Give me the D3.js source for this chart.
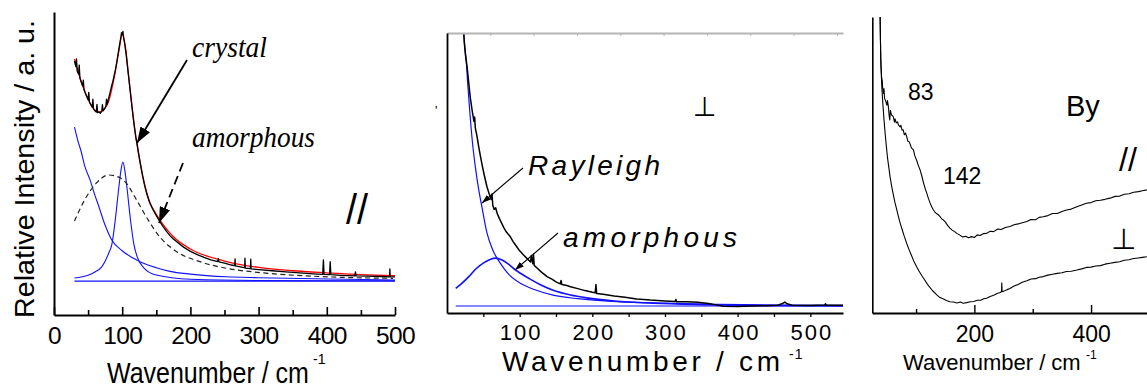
<!DOCTYPE html>
<html><head><meta charset="utf-8">
<script src="https://cdn.jsdelivr.net/npm/d3@7"></script>
<style>body{margin:0;background:#fff} svg{display:block}</style>
</head><body>
<svg id="c" width="1147" height="392"></svg>
<script>
// ---------------- Panel 1 (// polarisation, fitted) ----------------
const p1MajorTicks = [0,100,200,300,400,500];
const p1MinorTicks = [50,150,250,350,450];
const p1Measured = [[30,83.8],[32,82],[33,84.5],[34,80.5],[36,79.5],[37,82.5],[38,78.2],[40,76.8],[42,75.6],[43,77.5],[44,74.4],[46,73.2],[48,72.2],[50,71],[51,73.5],[52,70.2],[54,69.4],[56,68.6],[57,71.2],[58,68],[60,67.4],[62,67],[63,69.5],[64,66.8],[66,67],[68,66.6],[70,67.2],[71,69.4],[72,67.4],[74,68],[76,68.9],[77,71.2],[78,69.5],[80,71.5],[82,73.2],[84,75.2],[86,76.8],[88,78.8],[90,80.8],[92,83.4],[94,86.2],[96,89],[98,91.6],[99,93.2],[100,92.6],[101,93.6],[102,91.8],[104,89],[106,85.6],[108,81.5],[110,77.6],[112,73.5],[114,69.4],[116,65.4],[118,61.8],[120,58.6],[122,56.2],[124,53.4],[126,50.8],[128,48.2],[130,45.8],[133,42.6],[136,40],[140,37.2],[145,34.8],[150,32.8],[155,30.9],[160,29.2],[165,27.6],[170,26.2],[175,25.1],[180,24.2],[190,22.4],[200,21],[210,19.9],[220,19],[230,18.2],[240,17.6],[241,18.6],[242,17.5],[250,17.1],[260,16.5],[265,16.3],[265.5,18.5],[266,16.2],[275,15.8],[279.5,15.6],[280,18.8],[280.5,15.5],[288,15.3],[288.5,18.4],[289,15.2],[300,15],[320,14.6],[340,14.2],[360,13.9],[380,13.6],[394,13.4],[395,18.2],[396,13.4],[404,13.3],[405,17.6],[406,13.3],[420,13.1],[441,12.9],[442,14.2],[443,12.9],[460,12.8],[480,12.7],[492,12.6],[492.5,15.2],[493,12.6],[500,12.6]];
const p1Fit = [[30,84.5],[40,77],[50,71.2],[60,67.6],[65,67],[70,67.3],[80,70.5],[90,80.5],[95,87],[100,92.5],[105,88],[110,77.5],[120,58.8],[130,46],[140,37.5],[150,33.2],[160,29.8],[175,25.8],[200,21.8],[250,17.8],[300,15.7],[350,14.6],[400,13.9],[450,13.3],[500,13]];
const p1Rayleigh = [[30,62],[35,57.5],[40,53.8],[45,49.2],[53,44.5],[60,39.5],[65,36.3],[75,29.6],[84.5,24.8],[100,21.2],[126,17.6],[150,15.6],[170,14.4],[200,13.5],[253,12.6],[300,12.3],[400,11.9],[500,11.55]];
const p1Crystal = [[30,12.2],[50,13.1],[60,14.2],[70,15.9],[80,20.3],[85,23.5],[90,31.7],[95,42],[98,47.5],[101,50.5],[104,47.5],[107,42],[112,31.7],[117,23.5],[122,19.2],[132,15.5],[150,13.2],[200,11.8],[300,11.4],[500,11.3]];
const p1Amorphous = [[30,31],[45,38],[62,43.5],[80,46.2],[95,45.5],[106,43.5],[121,38],[138,31.4],[155,25.8],[180,20.9],[214,17.6],[253,15.4],[302,14],[400,12.6],[497,12.1]];
const p1Baseline = [[30,11.2],[500,11.2]];

// ---------------- Panel 2 (perpendicular, fitted) ----------------
const p2Ticks = [50,100,150,200,250,300,350,400,450,500];
const p2TopTicks = [50,100,150,200,250,300,350,400,450];
const p2Measured = [[23,100],[24,96],[25.5,92],[27.6,88],[30,82],[32,77],[34.5,72.5],[37,68.5],[38,70],[39,66],[41,63.5],[43.6,59.4],[46,56],[49,52],[52,48.4],[55,45.1],[58,42.6],[61,40.5],[62,42.5],[63,38.5],[65,37],[67,37.6],[69,35.6],[72,33.8],[75,32.2],[78,30.6],[81,29.2],[84,28.2],[87,27.3],[91,25.5],[95,24],[100,22.2],[105,20.8],[110,19.5],[115,18.2],[116,20.5],[118,17.6],[119,21],[120,17],[125,15.8],[130,14.6],[137.7,13],[145,12],[150,11.1],[156,10.4],[157,11.6],[158,10.2],[165,9.8],[170,9.4],[180,8.7],[190,8],[200,7.4],[204,7.2],[205,10.2],[206,7],[215,6.7],[230,6.1],[245,5.6],[261,5.0],[280,4.6],[300,4.3],[314,4.1],[315,4.8],[316,4.0],[330,4.0],[345,3.8],[360,3.4],[370,2.9],[380,2.4],[400,2.3],[420,2.5],[440,2.6],[455,2.8],[462,3.4],[465,3.9],[468,3.3],[475,2.8],[500,2.7],[520,2.9],[521,3.3],[522,2.8],[545,2.8]];
const p2Rayleigh = [[23,100],[24.5,95],[26.5,90],[28.5,82],[31.2,72.5],[35,61],[39,52.2],[44,43.5],[48,38],[55,28.6],[63,22.5],[73.5,17.7],[85,13.8],[101,10.6],[120,8.4],[146,6.4],[180,5.1],[238,4.0],[300,3.5],[376,3.1],[460,2.85],[545,2.7]];
const p2Amorphous = [[12,8.8],[20,10.5],[30,13],[40,15.8],[50.4,17.9],[60,19.2],[67,19.6],[75,19],[85,17.4],[95,15.2],[101,14.2],[115,12],[130,9.9],[147,8.0],[170,6.4],[192,5.4],[230,4.3],[284,3.5],[350,3.0],[400,2.75],[545,2.55]];
const p2Baseline = [[12,2.5],[545,2.5]];

// ---------------- Panel 3 (By) ----------------
const p3MajorTicks = [200,400];
const p3MinorTicks = [100,300,500];
const p3Parallel = [[38.4,100],[39,92],[39.5,86],[40,83.2],[41,79.5],[42,78.5],[43,75.5],[44,74.2],[45,75.8],[46,72.5],[48,71.6],[50,70.2],[51,71.8],[52.6,69.7],[54,66.5],[55,65.2],[56,68.5],[57,67.6],[58,66.9],[60,66.6],[61,66.3],[63,64.5],[64,65.6],[66,64.2],[68,64.6],[70,63.5],[72.7,62.9],[74,63.4],[76,61.8],[78,61.9],[80,60.2],[82,60.8],[84,59.6],[86,58],[88,57.9],[90,57],[92,55.8],[95.5,55.1],[98,53],[101,51.6],[104,49.8],[107,48.3],[110,46.2],[113,43.8],[116,41.8],[118.5,40.4],[121,38.8],[124,37.2],[127,35.8],[129.8,34.8],[132,34.2],[135,33.6],[138,33.2],[141,32.6],[144,31.8],[147,31.4],[150,30.8],[154,29.6],[158,28.7],[162,28],[166,27.5],[170,26.9],[175,26.3],[180,25.7],[185,25.9],[190,25.4],[195,25.8],[200,25.5],[205,26.4],[210,26.2],[215,26.8],[221,26.9],[227,27.6],[233,27.5],[240,28.4],[246,28.2],[253,28.9],[261,29.2],[268,29.8],[275,30.1],[282,30.5],[290,30.9],[297,31.6],[305,31.5],[311,32.3],[318,32.5],[326,32.9],[334,33.6],[342,33.6],[350,34.3],[358,34.8],[366,35.1],[375.6,35.9],[384,36.5],[392,37.1],[400,37.3],[408,37.9],[416,38.1],[424,38.4],[432.7,38.8],[441,39.4],[449,39.5],[457,40.1],[465,40.3],[473,40.8],[481,41],[488,41.3],[495.6,41.6]];
const p3Perpendicular = [[38.4,100],[39,92],[39.5,86],[40,83],[41,77.6],[42,74],[43.5,69.5],[45,65.5],[47,60.7],[49,56.5],[51,52.6],[53,49.6],[55.5,46],[58,43],[61,40],[64,37.2],[67,34.8],[70,32.4],[73,30.2],[76,28.3],[80,25.8],[84,23.5],[88,21.4],[92,19.5],[96,17.6],[101,15.6],[105,14.2],[110,12.6],[114,11.4],[118.5,10],[123,8.8],[128,7.6],[135.6,6.1],[141,5.2],[147,4.7],[152,4.2],[158,3.8],[164,3.7],[170,3.4],[176,3.7],[181,3.3],[187,3.5],[193,3.8],[199,3.9],[205,4.3],[211,4.3],[216,4.8],[221,5.0],[227,5.6],[233,6.0],[239,6.6],[244,6.9],[246.5,7.2],[247,10.2],[247.5,7.2],[252,7.5],[256,7.9],[261,8.3],[268,9.1],[275,9.6],[282,10.4],[290,10.9],[297,11.5],[305,11.6],[311,12.1],[318,12.3],[326,12.8],[334,13.1],[342,13.4],[350,13.6],[358,14.0],[366,14.1],[375.6,14.5],[384,14.9],[392,15.4],[400,15.5],[408,15.9],[416,16.0],[424,16.5],[432.7,16.8],[441,17.1],[449,17.3],[457,17.8],[465,18.0],[473,18.4],[481,18.6],[488,18.8],[495.6,19]];

const SANS = "'Liberation Sans', Arial, sans-serif";
const SERIF = "'Liberation Serif', 'Times New Roman', serif";
const svg = d3.select("#c");
const defs = svg.append("defs");
function marker(id, w, h) {
  defs.append("marker").attr("id", id).attr("viewBox", `0 0 ${w} ${h}`)
    .attr("refX", w).attr("refY", h/2).attr("markerWidth", w).attr("markerHeight", h)
    .attr("markerUnits", "userSpaceOnUse").attr("orient", "auto")
    .append("path").attr("d", `M0,0L${w},${h/2}L0,${h}Z`).attr("fill", "#000");
}
marker("bigArrow", 16, 11);
marker("smallArrow", 9, 6);

function line(x, y, curve) {
  return d3.line().x(d => x(d[0])).y(d => y(d[1])).curve(curve || d3.curveLinear);
}
function path(g, data, gen, stroke, width, dash) {
  const p = g.append("path").datum(data).attr("d", gen).attr("fill", "none")
    .attr("stroke", stroke).attr("stroke-width", width).attr("stroke-linejoin", "round");
  if (dash) p.attr("stroke-dasharray", dash);
  return p;
}
function text(g, x, y, s, size, opts) {
  opts = opts || {};
  const t = g.append("text").attr("x", x).attr("y", y).text(s)
    .attr("font-family", opts.family || SANS).attr("font-size", size).attr("fill", "#000");
  if (opts.italic) t.attr("font-style", "italic");
  if (opts.len) t.attr("textLength", opts.len).attr("lengthAdjust", opts.adj || "spacingAndGlyphs");
  if (opts.anchor) t.attr("text-anchor", opts.anchor);
  if (opts.ls) t.attr("letter-spacing", opts.ls);
  return t;
}

// ===== Panel 1 =====
{
  const x = d3.scaleLinear().domain([0, 500]).range([54, 395]);
  const y = d3.scaleLinear().domain([0, 100]).range([315, 12]);
  const g = svg.append("g");
  const smooth = line(x, y, d3.curveMonotoneX), lin = line(x, y);
  path(g, p1Baseline, lin, "#1010ff", 1.3);
  path(g, p1Rayleigh, smooth, "#1010ff", 1.1);
  path(g, p1Crystal, smooth, "#1010ff", 1.1);
  path(g, p1Amorphous, smooth, "#222", 1.2, "5,3.5");
  path(g, p1Fit, smooth, "#ff0000", 1.3);
  path(g, p1Measured, lin, "#000", 1.3);

  const ax = g.append("g").attr("transform", "translate(0,315)")
    .call(d3.axisBottom(x).tickValues(p1MajorTicks).tickSize(-8).tickSizeOuter(0).tickFormat(d3.format("d")));
  ax.select(".domain").attr("stroke-width", 2);
  ax.selectAll(".tick line").attr("stroke-width", 1.6);
  ax.selectAll("text").attr("y", 28.5).attr("dy", null).attr("font-family", SANS).attr("font-size", 24.5)
    .attr("letter-spacing", -0.6).attr("fill", "#000");
  const axm = g.append("g").attr("transform", "translate(0,315)")
    .call(d3.axisBottom(x).tickValues(p1MinorTicks).tickSize(-5).tickSizeOuter(0).tickFormat(""));
  axm.select(".domain").remove();
  axm.selectAll(".tick line").attr("stroke-width", 1.6);
  const ay = g.append("g").attr("transform", "translate(54,0)")
    .call(d3.axisLeft(y).tickValues([]).tickSizeOuter(0));
  ay.select(".domain").attr("stroke-width", 2);

  text(g, 0, 0, "Wavenumber / cm", 25).attr("transform", "translate(107,383) scale(1,1.15)");
  text(g, 313, 364, "-1", 14);
  text(g, 0, 0, "Relative Intensity / a. u.", 28, {len: 298, anchor: "middle"})
    .attr("transform", "translate(34,169) rotate(-90)");

  text(g, 192, 57, "crystal", 30, {family: SERIF, italic: true, len: 75});
  text(g, 192, 147, "amorphous", 30, {family: SERIF, italic: true, len: 123});
  g.append("line").attr("x1", 187).attr("y1", 60).attr("x2", 137).attr("y2", 143)
    .attr("stroke", "#000").attr("stroke-width", 1.8).attr("marker-end", "url(#bigArrow)");
  g.append("line").attr("x1", 183).attr("y1", 163).attr("x2", 159).attr("y2", 223)
    .attr("stroke", "#000").attr("stroke-width", 1.8).attr("stroke-dasharray", "9,5").attr("marker-end", "url(#bigArrow)");
  text(g, 0, 0, "//", 34, {len: 22}).attr("transform", "translate(346,224) scale(1,1.25)");
}

// ===== Panel 2 =====
{
  const x = d3.scaleLinear().domain([0, 545]).range([447, 843]);
  const xTop = d3.scaleLinear().domain([0, 457]).range([447, 843]);
  const y = d3.scaleLinear().domain([0, 100]).range([313, 33]);
  const g = svg.append("g");
  defs.append("clipPath").attr("id", "clip2").append("rect")
    .attr("x", 447).attr("y", 33).attr("width", 396).attr("height", 280);
  const pg = g.append("g").attr("clip-path", "url(#clip2)");
  const smooth = line(x, y, d3.curveMonotoneX), lin = line(x, y);
  path(pg, p2Baseline, lin, "#1010ff", 1.2);
  path(pg, p2Rayleigh, smooth, "#1010ff", 1.2);
  path(pg, p2Amorphous, smooth, "#1010ff", 1.6);
  path(pg, p2Measured, lin, "#000", 1.5);

  const top = g.append("g").attr("transform", "translate(0,33)")
    .call(d3.axisTop(xTop).tickValues(p2TopTicks).tickSize(-3).tickSizeOuter(0).tickFormat(""));
  top.selectAll("path, line").attr("stroke", "#b4b4b4");
  top.select(".domain").attr("stroke-width", 2);
  const ax = g.append("g").attr("transform", "translate(0,313)")
    .call(d3.axisBottom(x).tickValues(p2Ticks).tickSize(4).tickSizeOuter(0)
      .tickFormat(d => d % 100 === 0 ? d : ""));
  ax.select(".domain").attr("stroke-width", 2);
  ax.selectAll(".tick line").attr("stroke-width", 1.3);
  ax.selectAll("text").attr("y", 27).attr("dy", null).attr("dx", 1).attr("font-family", SANS)
    .attr("font-size", 22).attr("letter-spacing", 2).attr("fill", "#000");
  const ay = g.append("g").attr("transform", "translate(447,0)")
    .call(d3.axisLeft(y).tickValues([]).tickSizeOuter(0));
  ay.select(".domain").attr("stroke-width", 1.8);

  text(g, 502, 371, "Wavenumber / cm", 28, {len: 278, adj: "spacing"});
  text(g, 789, 359, "-1", 14, {ls: 1});
  text(g, 435, 115, "'", 13);

  text(g, 693, 116, "⊥", 27, {family: "'DejaVu Sans', sans-serif"});
  text(g, 528, 175, "Rayleigh", 28, {italic: true, len: 132, adj: "spacing"});
  text(g, 563, 247, "amorphous", 28, {italic: true, len: 174, adj: "spacing"});
  g.append("line").attr("x1", 523).attr("y1", 168).attr("x2", 482).attr("y2", 203)
    .attr("stroke", "#000").attr("stroke-width", 1.1).attr("marker-end", "url(#smallArrow)");
  g.append("line").attr("x1", 558).attr("y1", 233).attr("x2", 515).attr("y2", 270)
    .attr("stroke", "#000").attr("stroke-width", 1.1).attr("marker-end", "url(#smallArrow)");
}

// ===== Panel 3 =====
{
  const x = d3.scaleLinear().domain([25, 500]).range([872.3, 1149.4]);
  const y = d3.scaleLinear().domain([0, 100]).range([313, 17]);
  const g = svg.append("g");
  const lin = line(x, y);
  path(g, p3Parallel, lin, "#000", 1.1);
  path(g, p3Perpendicular, lin, "#000", 1.1);

  const ax = g.append("g").attr("transform", "translate(0,313)")
    .call(d3.axisBottom(x).tickValues(p3MajorTicks).tickSize(-8).tickSizeOuter(0).tickFormat(d3.format("d")));
  ax.select(".domain").attr("stroke-width", 1.8);
  ax.selectAll(".tick line").attr("stroke-width", 1.4);
  ax.selectAll("text").attr("y", 29).attr("dy", null).attr("font-family", SANS).attr("font-size", 23).attr("fill", "#000");
  const axm = g.append("g").attr("transform", "translate(0,313)")
    .call(d3.axisBottom(x).tickValues(p3MinorTicks).tickSize(-4).tickSizeOuter(0).tickFormat(""));
  axm.select(".domain").remove();
  axm.selectAll(".tick line").attr("stroke-width", 1.4);
  const ay = g.append("g").attr("transform", "translate(872.3,0)")
    .call(d3.axisLeft(y).tickValues([]).tickSizeOuter(0));
  ay.select(".domain").attr("stroke-width", 1.6);

  text(g, 903, 370, "Wavenumber / cm", 22);
  text(g, 1086, 359, "-1", 12);
  text(g, 908, 100, "83", 23);
  text(g, 943, 184, "142", 23);
  text(g, 1066, 116, "By", 29);
  text(g, 0, 0, "//", 28, {len: 18}).attr("transform", "translate(1119,171) scale(1,1.2)");
  text(g, 1111, 249, "⊥", 29, {family: "'DejaVu Sans', sans-serif"});
}
</script></body></html>
